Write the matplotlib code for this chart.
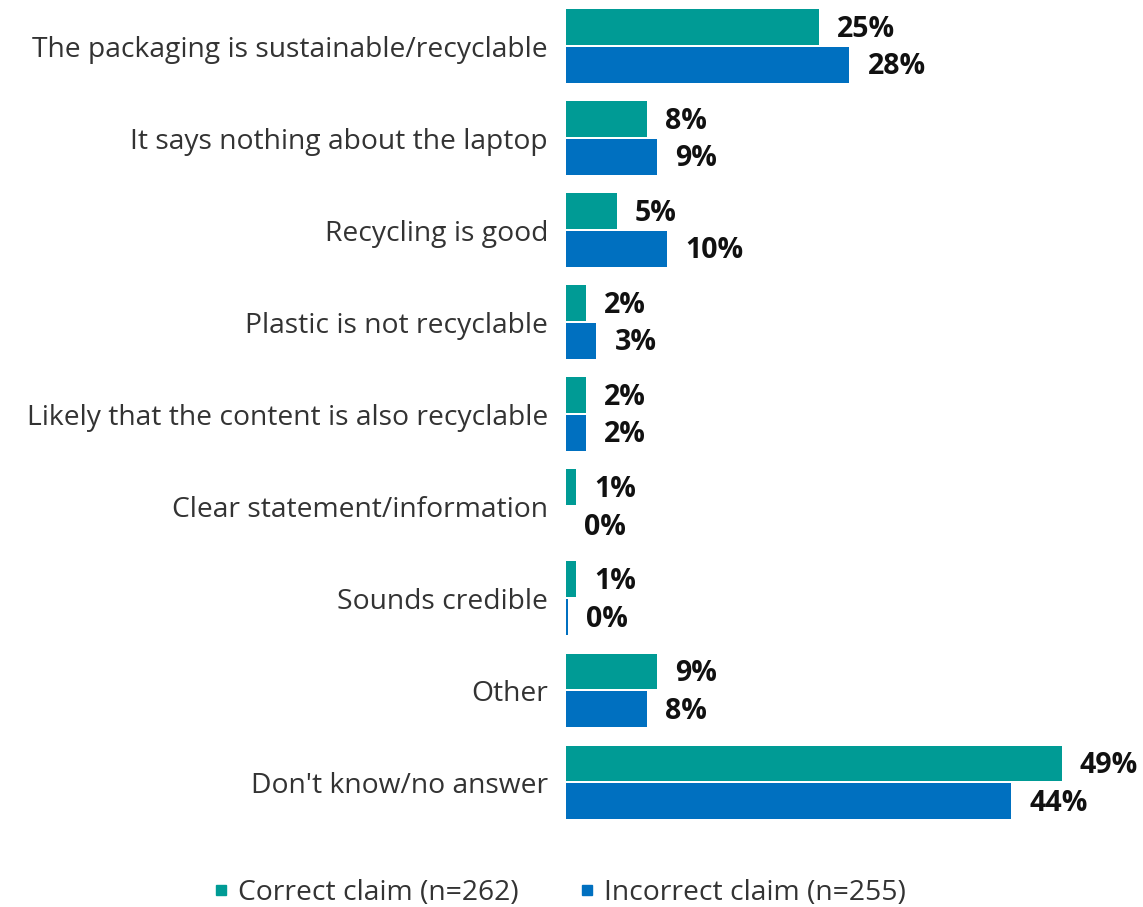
import matplotlib.pyplot as plt
from matplotlib.lines import Line2D
import numpy as np

plt.rcParams['font.family'] = ['Open Sans', 'DejaVu Sans']

categories = [
    'The packaging is sustainable/recyclable',
    'It says nothing about the laptop',
    'Recycling is good',
    'Plastic is not recyclable',
    'Likely that the content is also recyclable',
    'Clear statement/information',
    'Sounds credible',
    'Other',
    "Don't know/no answer",
]
correct = [25, 8, 5, 2, 2, 1, 1, 9, 49]
incorrect = [28, 9, 10, 3, 2, 0, 0.2, 8, 44]
series_names = ['Correct claim (n=262)', 'Incorrect claim (n=255)']

teal = '#009b95'
blue = '#0070c0'
label_color = '#333333'

fig = plt.figure(figsize=(11.43, 9.07), dpi=100)
ax = fig.add_axes([0.4952, 0.087, 0.487, 0.913])

y = np.arange(len(categories))
h = 0.385
off = 0.205
b1 = ax.barh(y - off, correct, height=h, color=teal)
b2 = ax.barh(y + off, incorrect, height=h, color=blue)

# value labels just right of each bar
for bars, vals in [(b1, correct), (b2, incorrect)]:
    for bar, v in zip(bars, vals):
        ax.annotate(f'{v:.0f}%', (bar.get_width(), bar.get_y() + bar.get_height() / 2),
                    xytext=(13, -1.5), textcoords='offset points',
                    ha='left', va='center', fontsize=20.5, fontweight='bold',
                    color='#111111')

ax.set_xlim(0, 55)
ax.set_ylim(len(categories) - 0.5, -0.5)
ax.set_yticks(y)
ax.set_yticklabels(categories, fontsize=20.3, color=label_color)
ax.tick_params(axis='y', length=0, pad=13)
ax.set_xticks([])
for s in ax.spines.values():
    s.set_visible(False)

handles = [Line2D([], [], marker='s', linestyle='', markersize=7, color=c)
           for c in (teal, blue)]
fig.legend(handles, series_names, loc='lower center', bbox_to_anchor=(0.488, -0.028),
           ncol=2, frameon=False, fontsize=20.3, handlelength=0.8, handletextpad=0.2,
           columnspacing=2.0, labelcolor=label_color)

fig.savefig('out.png', dpi=100)
